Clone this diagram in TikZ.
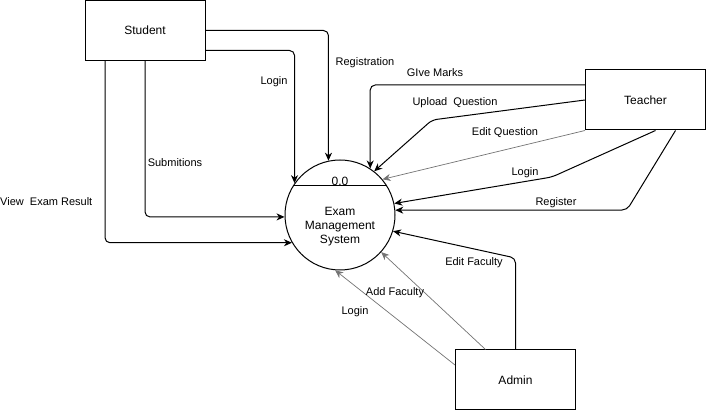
\documentclass[tikz,border=0pt]{standalone}
\usepackage{fontspec}
\setmainfont{Liberation Sans}
\usepackage{tikz}
\usetikzlibrary{arrows.meta}
\definecolor{faintgray}{RGB}{115,115,115}
\tikzset{
    entity/.style={
           rectangle,
           draw=black, line width=1pt,
           minimum width=120pt,
           minimum height=60pt,
           inner sep=0pt,
           font=\fontsize{12}{14}\selectfont,
           },
    process/.style={circle, draw=black, line width=1pt, minimum size=110pt, inner sep=0pt},
    bigtxt/.style={inner sep=0pt, align=center, font=\fontsize{12}{14}\selectfont},
    flow/.style={-{Stealth[length=8pt,width=7pt,inset=2.5pt]}, draw=black, line width=1pt, rounded corners=5pt},
    faint/.style={flow, draw=faintgray, line width=0.7pt},
    lbl/.style={inner sep=0pt, yshift=-1.5pt, font=\fontsize{11}{13}\selectfont},
}

\begin{document}
\begin{tikzpicture}[x=1pt,y=-1pt]
   \useasboundingbox (0,0) rectangle (707,411);
   \node[entity] (student) at (145,30.5) {Student};
   \node[entity] (teacher) at (645.5,100) {Teacher};
   \node[entity] (admin) at (515.5,380) {Admin};
   \node[process] (ems) at (340,215) {};
   \draw[line width=1pt] (ems.148) -- (ems.32);
   \node[bigtxt] (num) at (340,181.5) {0.0};
   \node[bigtxt] (emsname) at (340,226.5) {Exam\\Management\\System};

   \draw[flow] (student.east) -| (ems.102);
   \draw[flow] ([yshift=-20pt]student.east) -| (ems.145);
   \draw[flow] (student.south) |- (ems.182);
   \draw[flow] ([xshift=-40pt]student.south) |- (ems.210);

   \draw[flow] ([yshift=15pt]teacher.west) -| (ems.57);
   \draw[flow] (teacher.west) -- (432,120) -- (ems.52);
   \draw[faint] (teacher.south west) -- (ems.40);
   \draw[flow] ([xshift=10pt]teacher.south) -- (552,177) -- (ems.12);
   \draw[flow] ([xshift=30pt]teacher.south) -- (627,210) -- (ems.5);

   \draw[flow] (admin.north) -- (515.5,258) -- (ems.343);
   \draw[faint] ([xshift=-30pt]admin.north) -- (ems.318);
   \draw[faint] ([yshift=15pt]admin.west) -- (ems.265);

   \node[lbl] (l_reg) at (365,61) {Registration};
   \node[lbl] (l_slogin) at (274,80) {Login};
   \node[lbl] (l_sub) at (175,161) {Submitions};
   \node[lbl, anchor=west] (l_view) at (0,200) {View\ \ Exam Result};
   \node[lbl] (l_marks) at (435,71) {GIve Marks};
   \node[lbl] (l_upload) at (455,101) {Upload\ \ Question};
   \node[lbl] (l_editq) at (505,131) {Edit Question};
   \node[lbl] (l_tlogin) at (525,171) {Login};
   \node[lbl] (l_register) at (556,201) {Register};
   \node[lbl] (l_editf) at (474,261) {Edit Faculty};
   \node[lbl] (l_addf) at (395,291) {Add Faculty};
   \node[lbl] (l_alogin) at (355,310) {Login};
\end{tikzpicture}
\end{document}
